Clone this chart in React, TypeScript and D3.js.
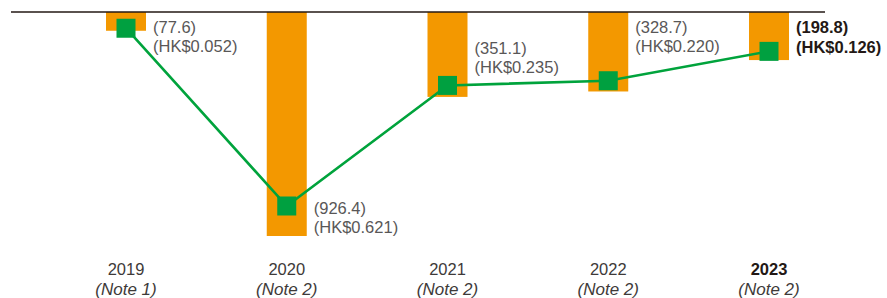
import { useEffect, useRef } from 'react'
import * as d3 from 'd3'

const years = ['2019', '2020', '2021', '2022', '2023']
const notes = ['(Note 1)', '(Note 2)', '(Note 2)', '(Note 2)', '(Note 2)']
const losses = [77.6, 926.4, 351.1, 328.7, 198.8]
const lossPerShare = [0.052, 0.621, 0.235, 0.22, 0.126]
const lossLabels = ['(77.6)', '(926.4)', '(351.1)', '(328.7)', '(198.8)']
const epsLabels = ['(HK$0.052)', '(HK$0.621)', '(HK$0.235)', '(HK$0.220)', '(HK$0.126)']

export default function App() {
  const svgRef = useRef<SVGSVGElement>(null)

  useEffect(() => {
    const w = 887
    const h = 298
    const top = 12
    const svg = d3.select(svgRef.current)
      .attr('width', w)
      .attr('height', h)
    svg.selectAll('*').remove()

    const font = '"Liberation Sans", Arial, sans-serif'
    const orange = '#F39800'
    const green = '#00A33C'
    const grey = '#595757'
    const dark = '#231815'

    // scales
    const x = d3.scalePoint<string>()
      .domain(years)
      .range([126, 769])

    const yBar = d3.scaleLinear()
      .domain([0, 926.4])
      .range([top, 236])

    const yEps = d3.scaleLinear()
      .domain([0, 0.621])
      .range([top, 206])

    const barW = 40

    // bars
    svg.selectAll('.bar')
      .data(losses)
      .join('rect')
        .attr('x', (d, i) => x(years[i])! - barW / 2)
        .attr('y', top)
        .attr('width', barW)
        .attr('height', d => yBar(d) - top)
        .attr('fill', orange)

    // baseline
    svg.append('line')
      .attr('x1', 11)
      .attr('x2', 825)
      .attr('y1', top)
      .attr('y2', top)
      .attr('stroke', dark)
      .attr('stroke-width', 1.5)

    // line of loss per share
    const line = d3.line<number>()
      .x((d, i) => x(years[i])!)
      .y(d => yEps(d))

    svg.append('path')
      .datum(lossPerShare)
      .attr('d', line)
      .attr('fill', 'none')
      .attr('stroke', green)
      .attr('stroke-width', 2.6)

    const m = 19
    svg.selectAll('.marker')
      .data(lossPerShare)
      .join('rect')
        .attr('x', (d, i) => x(years[i])! - m / 2)
        .attr('y', d => yEps(d) - m / 2)
        .attr('width', m)
        .attr('height', m)
        .attr('fill', '#00A040')

    // value labels
    const labelTop = (i: number) => {
      if (i === 1) return yEps(lossPerShare[i]) + 8
      if (i === 2) return yEps(lossPerShare[i]) - 31
      return 33
    }
    years.forEach((yr, i) => {
      const last = i === years.length - 1
      const t = svg.append('text')
        .attr('x', x(yr)! + 27)
        .attr('y', labelTop(i))
        .attr('font-family', font)
        .attr('font-size', 16.5)
        .attr('font-weight', last ? 'bold' : 'normal')
        .attr('fill', last ? dark : grey)
      t.append('tspan').text(lossLabels[i])
      t.append('tspan')
        .attr('x', x(yr)! + 27)
        .attr('dy', last ? 20 : 19)
        .text(epsLabels[i])
    })

    // x axis labels
    years.forEach((yr, i) => {
      const last = i === years.length - 1
      svg.append('text')
        .attr('x', x(yr)!)
        .attr('y', 275)
        .attr('text-anchor', 'middle')
        .attr('font-family', font)
        .attr('font-size', 16.5)
        .attr('font-weight', last ? 'bold' : 'normal')
        .attr('fill', last ? dark : '#3e3a39')
        .text(yr)
      svg.append('text')
        .attr('x', x(yr)!)
        .attr('y', 295)
        .attr('text-anchor', 'middle')
        .attr('font-family', font)
        .attr('font-size', 17)
        .attr('font-style', 'italic')
        .attr('fill', '#3e3a39')
        .text(notes[i])
    })
  }, [])

  return (
    <svg ref={svgRef} style={{ position: 'absolute', left: 0, top: 0 }}></svg>
  )
}
